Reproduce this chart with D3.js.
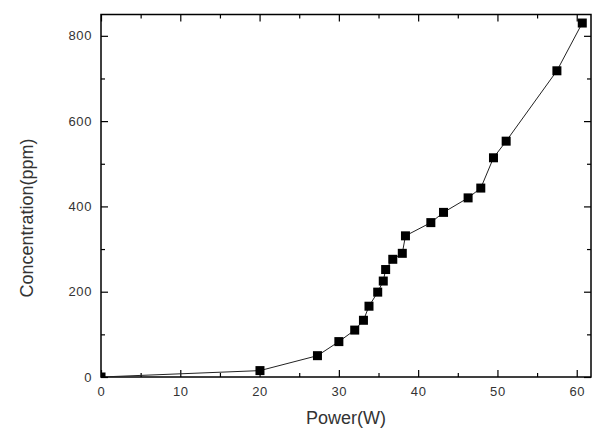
<!DOCTYPE html>
<html>
<head>
<meta charset="utf-8">
<script src="https://cdn.jsdelivr.net/npm/d3@7"></script>
<style>
  html, body { margin: 0; padding: 0; background: #fff; }
  svg { display: block; }
</style>
</head>
<body>
<svg id="chart" width="612" height="436"></svg>
<script>
const power = [0, 20.05, 27.3, 30.0, 32.0, 33.1, 33.8, 34.9, 35.6, 35.9, 36.8, 38.0, 38.4, 41.6, 43.2, 46.3, 47.9, 49.5, 51.1, 57.5, 60.7];
const concentration = [0, 15, 50, 83, 110, 133, 166, 199, 225, 252, 276, 290, 331, 362, 386, 420, 443, 514, 553, 718, 830];
const xTicks = [0, 10, 20, 30, 40, 50, 60];
const yTicks = [0, 200, 400, 600, 800];
const xLabel = "Power(W)";
const yLabel = "Concentration(ppm)";

const svg = d3.select("#chart");
const L = 101, R = 591, T = 14.5, B = 377;
const x = d3.scaleLinear().domain([0, 61.8]).range([L, R]);
const y = d3.scaleLinear().domain([0, 850]).range([B, T]);

const xMinor = d3.range(5, 61, 10);
const yMinor = d3.range(100, 850, 200);

svg.append("defs").append("clipPath").attr("id", "clip")
  .append("rect").attr("x", L).attr("y", T).attr("width", R - L).attr("height", B - T);

const fontFam = "'Liberation Sans', Arial, sans-serif";

function styleAxis(g) {
  g.select(".domain").remove();
  g.selectAll("line").attr("stroke", "#000").attr("stroke-width", 1.2);
  g.selectAll("text").attr("font-family", fontFam).attr("font-size", 13)
    .attr("fill", "#333").attr("letter-spacing", 0.6);
}
// bottom
svg.append("g").attr("transform", `translate(0,${B})`)
  .call(d3.axisBottom(x).tickValues(xTicks).tickSize(-7).tickPadding(10).tickFormat(d3.format("d")))
  .call(styleAxis);
svg.append("g").attr("transform", `translate(0,${B})`)
  .call(d3.axisBottom(x).tickValues(xMinor).tickSize(-4).tickFormat(""))
  .call(styleAxis);
// top
svg.append("g").attr("transform", `translate(0,${T})`)
  .call(d3.axisTop(x).tickValues(xTicks).tickSize(-7).tickFormat(""))
  .call(styleAxis);
svg.append("g").attr("transform", `translate(0,${T})`)
  .call(d3.axisTop(x).tickValues(xMinor).tickSize(-4).tickFormat(""))
  .call(styleAxis);
// left
svg.append("g").attr("transform", `translate(${L},0)`)
  .call(d3.axisLeft(y).tickValues(yTicks).tickSize(-7).tickPadding(9).tickFormat(d3.format("d")))
  .call(styleAxis);
svg.append("g").attr("transform", `translate(${L},0)`)
  .call(d3.axisLeft(y).tickValues(yMinor).tickSize(-4).tickFormat(""))
  .call(styleAxis);
// right
svg.append("g").attr("transform", `translate(${R},0)`)
  .call(d3.axisRight(y).tickValues(yTicks).tickSize(-7).tickFormat(""))
  .call(styleAxis);
svg.append("g").attr("transform", `translate(${R},0)`)
  .call(d3.axisRight(y).tickValues(yMinor).tickSize(-4).tickFormat(""))
  .call(styleAxis);

// frame
svg.append("rect").attr("x", L).attr("y", T).attr("width", R - L).attr("height", B - T)
  .attr("fill", "none").attr("stroke", "#000").attr("stroke-width", 1.5);

const data = power.map((p, i) => ({ p, c: concentration[i] }));
const plot = svg.append("g").attr("clip-path", "url(#clip)");
plot.append("path").datum(data)
  .attr("fill", "none").attr("stroke", "#222").attr("stroke-width", 1)
  .attr("d", d3.line().x(d => x(d.p)).y(d => y(d.c)));
const s = 9;
plot.selectAll("rect.pt").data(data).enter().append("rect").attr("class", "pt")
  .attr("x", d => x(d.p) - s / 2).attr("y", d => y(d.c) - s / 2)
  .attr("width", s).attr("height", s).attr("fill", "#000");

// axis titles
svg.append("text").attr("x", (L + R) / 2).attr("y", 424).attr("text-anchor", "middle")
  .attr("font-family", fontFam).attr("font-size", 18).attr("fill", "#333").text(xLabel);
svg.append("text").attr("transform", `translate(33,218) rotate(-90)`).attr("text-anchor", "middle")
  .attr("font-family", fontFam).attr("font-size", 18).attr("fill", "#333").text(yLabel);
</script>
</body>
</html>
